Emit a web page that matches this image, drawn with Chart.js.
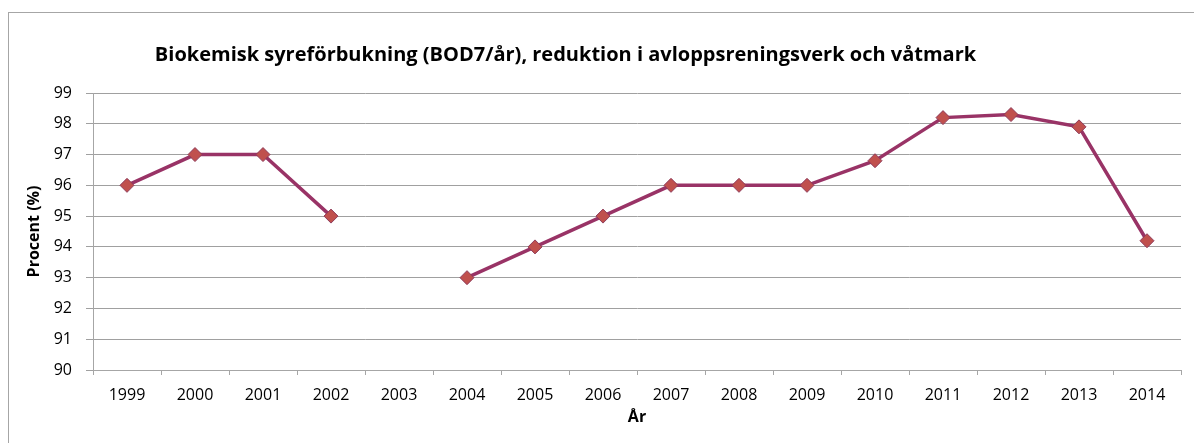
<!DOCTYPE html>
<html>
<head>
<meta charset="utf-8">
<script src="https://cdn.jsdelivr.net/npm/chart.js@4"></script>
<style>
    html, body { margin: 0; padding: 0; background: #ffffff; }
    .wrap { position: relative; width: 1194px; height: 443px; overflow: hidden; }
    .frame { position: absolute; left: 8px; top: 12px; width: 1300px; height: 500px; border: 1px solid #a6a6a6; }
    .box { position: absolute; left: 0; top: 0; width: 1194px; height: 443px; }
</style>
</head>
<body>
<div class="wrap">
    <div class="frame"></div>
    <div class="box"><canvas id="chart1"></canvas></div>
</div>
<script>
const years = ['1999', '2000', '2001', '2002', '2003', '2004', '2005', '2006',
    '2007', '2008', '2009', '2010', '2011', '2012', '2013', '2014'];
const reduction = [96, 97, 97, 95, null, 93, 94, 95, 96, 96, 96, 96.8, 98.2, 98.3, 97.9, 94.2];
const yMin = 90;
const yMax = 99;

// move the title a bit left like in the original sheet
const titleShift = {
    id: 'titleShift',
    afterLayout(chart) {
        if (chart.titleBlock) {
            chart.titleBlock.left = 0;
            chart.titleBlock.right = 1131;
        }
    }
};

const ctx1 = document.getElementById('chart1').getContext('2d');
new Chart(ctx1, {
    type: 'line',
    data: {
        labels: years,
        datasets: [{
            data: reduction,
            borderColor: '#993366',
            borderWidth: 3.5,
            pointStyle: 'rectRot',
            pointRadius: 7,
            pointHoverRadius: 7,
            pointBackgroundColor: '#C0504D',
            pointBorderColor: '#8E3A5A',
            pointBorderWidth: 1,
            spanGaps: false,
            tension: 0
        }]
    },
    options: {
        responsive: true,
        maintainAspectRatio: false,
        animation: false,
        layout: {
            padding: { left: 0, right: 13, top: 0, bottom: 0 }
        },
        plugins: {
            legend: { display: false },
            tooltip: { enabled: false },
            title: {
                display: true,
                text: 'Biokemisk syreförbukning (BOD7/år), reduktion i avloppsreningsverk och våtmark',
                color: '#000000',
                font: {
                    family: 'Open Sans',
                    size: 20,
                    weight: 'bold'
                },
                padding: { top: 43, bottom: 26 }
            }
        },
        scales: {
            x: {
                offset: true,
                grid: {
                    offset: true,
                    drawOnChartArea: false,
                    drawTicks: true,
                    tickLength: 5,
                    color: '#a6a6a6'
                },
                border: { color: '#a6a6a6' },
                ticks: {
                    color: '#000000',
                    padding: 11,
                    maxRotation: 0,
                    autoSkip: false,
                    font: { family: 'Open Sans', size: 16 }
                },
                title: {
                    display: true,
                    text: 'År',
                    color: '#000000',
                    font: { family: 'Open Sans', size: 16, weight: 'bold' },
                    padding: { top: 0, bottom: 16 }
                },
                afterFit(scale) {
                    scale.height = 73;
                }
            },
            y: {
                min: yMin,
                max: yMax,
                grid: {
                    color: '#a0a0a0',
                    tickLength: 7
                },
                border: { color: '#a6a6a6' },
                ticks: {
                    stepSize: 1,
                    color: '#000000',
                    padding: 14,
                    font: { family: 'Open Sans', size: 16 }
                },
                title: {
                    display: true,
                    text: 'Procent (%)',
                    color: '#000000',
                    font: { family: 'Open Sans', size: 16, weight: 'bold' },
                    padding: { top: 25, bottom: 0 }
                },
                afterFit(scale) {
                    scale.width = 93;
                }
            }
        }
    },
    plugins: [titleShift]
});
</script>
</body>
</html>
